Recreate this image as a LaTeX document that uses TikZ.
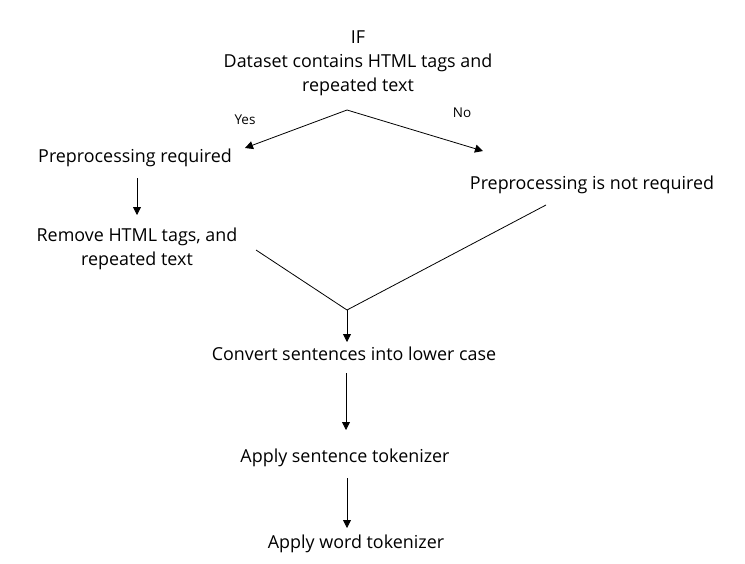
\documentclass[tikz,border=0pt]{standalone}
\usepackage{fontspec}
\setmainfont{Open Sans}
\usetikzlibrary{arrows.meta}

\begin{document}
\begin{tikzpicture}[x=1pt, y=-1pt,
    txt/.style={font=\fontsize{17.9}{24}\selectfont, align=center, inner sep=0pt},
    small/.style={font=\fontsize{13.5}{16}\selectfont, inner sep=0pt},
    flow/.style={-{Triangle[length=8pt, width=8pt]}, line width=0.8pt}]
  \useasboundingbox (0, 0) rectangle (745, 563);

  % condition
  \node[txt] (cond) at (358, 63) {IF\\Dataset contains HTML tags and\\repeated text};
  \coordinate (top) at (347, 110);

  % branches
  \node[txt] (pre) at (135, 158) {Preprocessing required};
  \node[txt] (nopre) at (592, 185) {Preprocessing is not required};
  \node[txt] (remove) at (137, 249) {Remove HTML tags, and\\repeated text};
  \node[small] (yes) at (245, 120) {Yes};
  \node[small] (no) at (462, 113) {No};
  \coordinate (yesend) at (245, 148);
  \coordinate (noend) at (483, 151);
  \coordinate (pa) at (137, 178);
  \coordinate (pb) at (137, 215);
  \draw[flow] (top) -- (yesend);
  \draw[flow] (top) -- (noend);
  \draw[flow] (pa) -- (pb);

  % merge
  \coordinate (ra) at (256, 250);
  \coordinate (na) at (546, 205);
  \coordinate (merge) at (347, 310);
  \coordinate (la) at (347, 342);
  \draw[line width=0.8pt] (ra) -- (merge) -- (na);

  % steps
  \node[txt] (lower) at (354, 354) {Convert sentences into lower case};
  \node[txt] (sent) at (345, 458) {Apply sentence tokenizer};
  \node[txt] (word) at (356, 544) {Apply word tokenizer};
  \coordinate (sa) at (346, 373);
  \coordinate (sb) at (346, 430);
  \coordinate (wa) at (347, 478);
  \coordinate (wb) at (347, 528);
  \draw[flow] (merge) -- (la);
  \draw[flow] (sa) -- (sb);
  \draw[flow] (wa) -- (wb);
\end{tikzpicture}
\end{document}
